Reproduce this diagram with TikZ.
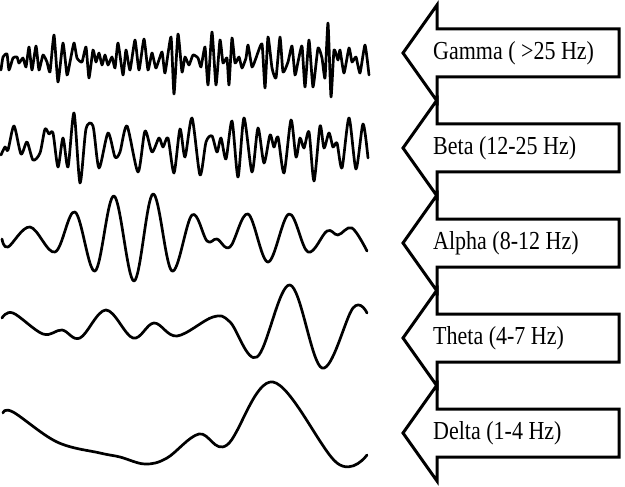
\documentclass[tikz,border=0pt]{standalone}
\usepackage{fontspec}
\setmainfont{Liberation Serif}
\usepackage{tikz}
\usetikzlibrary{calc}
\tikzset{
  wave/.style={line width=2.7pt, line join=round, line cap=round},
  band/.style={line width=3pt, line join=miter},
  bandlabel/.style={anchor=west, inner sep=0pt, font=\fontsize{22}{26}\selectfont}
}
\newcommand{\drawBandArrow}[3]{
\coordinate (#1Tip) at (403,#2);
\coordinate (#1HeadT) at (437,#2-48);
\coordinate (#1NotchT) at (437,#2-24);
\coordinate (#1EndT) at (619,#2-24);
\coordinate (#1EndB) at (619,#2+24);
\coordinate (#1NotchB) at (437,#2+24);
\coordinate (#1HeadB) at (437,#2+48);
\draw[band] (#1Tip) -- (#1HeadT) -- (#1NotchT) -- (#1EndT) -- (#1EndB)
  -- (#1NotchB) -- (#1HeadB) -- cycle;
\node[bandlabel] (#1) at (433,#2) {\scalebox{1}[1.18]{#3}};
}

\begin{document}
\begin{tikzpicture}[x=1pt, y=-1pt]
  \useasboundingbox (0,0) rectangle (625,487);
  % band arrows
  \drawBandArrow{gamma}{53}{Gamma ( >25 Hz)}
  \drawBandArrow{beta}{148}{Beta (12-25 Hz)}
  \drawBandArrow{alpha}{243}{Alpha (8-12 Hz)}
  \drawBandArrow{theta}{338}{Theta (4-7 Hz)}
  \drawBandArrow{delta}{433}{Delta (1-4 Hz)}
  % gamma
  \draw[wave] plot[smooth, tension=0.3] coordinates {
    (1,70) (3,57) (7,54) (9,70) (13,58) (17,57) (19,63) (23,58) (26,67)
    (29,47) (32,70) (36,46) (39,70) (43,55) (47,62) (50,72) (54,35) (58,82)
    (63,43) (67,75) (70,62) (74,43) (77,58) (82,62) (86,47) (89,78) (93,50)
    (96,62) (99,53) (102,65) (105,55) (108,65) (112,57) (115,68) (118,43)
    (123,75) (126,50) (130,70) (135,40) (139,70) (144,39) (148,70) (152,53)
    (156,68) (162,52) (165,73) (171,37) (174,94) (178,34) (182,72) (185,57)
    (189,65) (193,55) (198,58) (201,67) (205,47) (208,85) (212,32) (216,85)
    (220,40) (223,63) (227,58) (229,85) (232,38) (235,63) (239,57) (242,68)
    (246,58) (248,45) (252,67) (256,58) (262,44) (265,88) (268,37) (272,68)
    (276,78) (280,37) (283,72) (288,62) (292,46) (295,75) (298,62) (302,46)
    (305,87) (309,40) (313,87) (318,48) (322,58) (325,78) (328,23) (331,97)
    (334,50) (338,60) (340,50) (344,73) (349,48) (352,62) (356,57) (360,73)
    (365,45) (369,75)};
  % beta
  \draw[wave] plot[smooth, tension=0.45] coordinates {
    (1,155) (5,147) (8,150) (14,126) (21,154) (27,142) (33,160) (40,153)
    (45,129) (49,134) (53,133) (58,167) (63,138) (68,167) (74,113) (80,183)
    (86,129) (93,126) (99,168) (108,133) (115,157) (120,152) (127,126)
    (138,172) (145,131) (152,152) (159,138) (163,147) (168,138) (174,173)
    (180,129) (185,157) (192,118) (200,175) (206,142) (212,136) (217,152)
    (221,138) (226,159) (232,121) (238,177) (244,118) (252,172) (258,128)
    (264,163) (270,135) (274,147) (278,137) (284,173) (291,120) (296,157)
    (300,138) (304,148) (309,132) (314,181) (320,126) (324,148) (329,133)
    (333,147) (337,143) (342,168) (349,118) (356,169) (363,124) (368,158)};
  % alpha
  \draw[wave] plot[smooth, tension=0.6] coordinates {
    (2,239) (8,247) (30,227) (55,252) (75,212) (95,271) (114,196) (134,281)
    (153,194) (172,271) (192,215) (207,241) (217,239) (230,247) (248,214)
    (268,262) (289,214) (308,252) (327,231) (338,235) (352,228) (367,251)};
  % theta
  \draw[wave] plot[smooth, tension=0.6] coordinates {
    (2,318) (13,313) (43,334) (62,330) (80,338) (106,310) (133,338) (154,323)
    (177,336) (213,317) (230,322) (257,357) (290,285) (322,368) (353,308)
    (367,313)};
  % delta
  \draw[wave] plot[smooth, tension=0.6] coordinates {
    (3,413) (13,412) (57,442) (100,453) (120,457) (145,464) (167,458)
    (199,434) (227,445) (273,382) (337,463) (367,455)};
\end{tikzpicture}
\end{document}
